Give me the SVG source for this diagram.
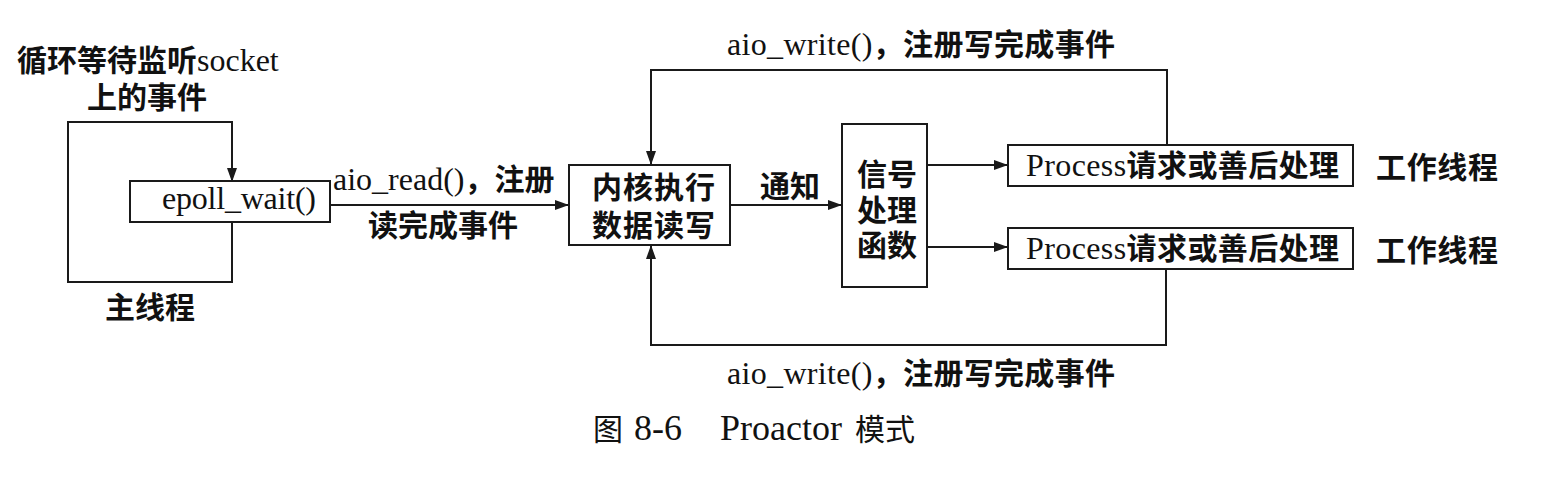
<svg xmlns="http://www.w3.org/2000/svg" width="1558" height="478" viewBox="0 0 1558 478">
<defs>
<marker id="ah" markerWidth="14" markerHeight="10" refX="13" refY="5" orient="auto" markerUnits="userSpaceOnUse">
<path d="M0,0 L14,5 L0,10 Z" fill="#1a1a1a"/>
</marker>
</defs>
<style>
.box{fill:#fff;stroke:#1a1a1a;stroke-width:2}
.ln{fill:none;stroke:#1a1a1a;stroke-width:2}
.t{font-family:"Liberation Serif","Noto Sans CJK SC",serif;font-size:32px;fill:#111}
.c{font-family:"Noto Sans CJK SC",sans-serif;font-size:30px;font-weight:bold;fill:#111}
.cap{font-family:"Liberation Serif","Noto Sans CJK SC",serif;font-size:36px;fill:#111}
.cc{font-family:"Noto Sans CJK SC",sans-serif;font-size:30px}
</style>
<rect width="1558" height="478" fill="#fff"/>
<g id="connectors">
<path class="ln" d="M232,222 V282 H68 V122 H232 V181" marker-end="url(#ah)"/>
<path class="ln" d="M330,205 H568" marker-end="url(#ah)"/>
<path class="ln" d="M730,205 H841" marker-end="url(#ah)"/>
<path class="ln" d="M927,165 H1007" marker-end="url(#ah)"/>
<path class="ln" d="M927,247 H1007" marker-end="url(#ah)"/>
<path class="ln" d="M1167,145 V70 H651 V164" marker-end="url(#ah)"/>
<path class="ln" d="M1166,269 V345 H651 V246" marker-end="url(#ah)"/>
</g>
<g id="main-thread-labels">
<text class="t"><tspan x="17" y="71"><tspan class="c">循环等待监听</tspan>socket</tspan><tspan class="c" x="87" y="108">上的事件</tspan></text>
<text class="c" x="105" y="318">主线程</text>
</g>
<g id="epoll">
<rect class="box" x="130" y="181" width="200" height="41"/>
<text class="t" x="162" y="209" textLength="154" lengthAdjust="spacing">epoll_wait()</text>
</g>
<g id="aio-read-label">
<text class="t"><tspan x="333" y="190">aio_read()<tspan class="c">，注册</tspan></tspan><tspan class="c" x="368" y="236">读完成事件</tspan></text>
</g>
<g id="kernel">
<rect class="box" x="569" y="165" width="161" height="80"/>
<text class="c"><tspan x="592" y="198" letter-spacing="1">内核执行</tspan><tspan x="592" y="236" letter-spacing="1">数据读写</tspan></text>
</g>
<g id="notify-label">
<text class="c" x="760" y="197">通知</text>
</g>
<g id="signal">
<rect class="box" x="842" y="124" width="85" height="163"/>
<text class="c"><tspan x="857" y="185">信号</tspan><tspan x="857" y="221">处理</tspan><tspan x="857" y="256">函数</tspan></text>
</g>
<g id="process1">
<rect class="box" x="1008" y="145" width="345" height="41"/>
<text class="t" x="1026" y="176" textLength="313" lengthAdjust="spacing">Process<tspan class="c">请求或善后处理</tspan></text>
<text class="c" x="1376" y="178" textLength="122" lengthAdjust="spacing">工作线程</text>
</g>
<g id="process2">
<rect class="box" x="1008" y="228" width="345" height="41"/>
<text class="t" x="1026" y="259" textLength="313" lengthAdjust="spacing">Process<tspan class="c">请求或善后处理</tspan></text>
<text class="c" x="1376" y="261" textLength="122" lengthAdjust="spacing">工作线程</text>
</g>
<g id="aio-write-labels">
<text class="t" x="727" y="55" textLength="388" lengthAdjust="spacing">aio_write()<tspan class="c">，注册写完成事件</tspan></text>
<text class="t" x="727" y="384" textLength="388" lengthAdjust="spacing">aio_write()<tspan class="c">，注册写完成事件</tspan></text>
</g>
<g id="caption">
<text class="cap" x="593" y="440"><tspan class="cc">图</tspan><tspan x="634">8-6</tspan><tspan x="720">Proactor</tspan><tspan class="cc" x="855">模式</tspan></text>
</g>
</svg>
